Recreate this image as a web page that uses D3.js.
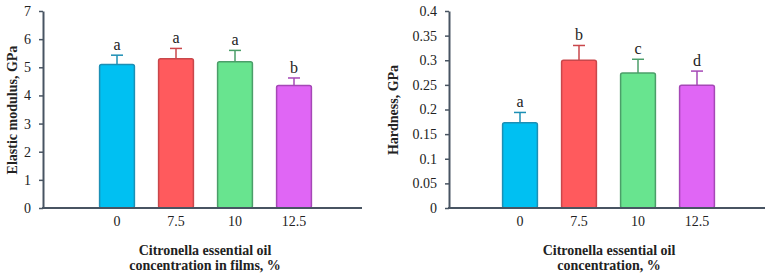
<!DOCTYPE html>
<html>
<head>
<meta charset="utf-8">
<script src="https://cdn.jsdelivr.net/npm/d3@7"></script>
<style>
  body { margin: 0; background: #fff; }
  text { font-family: "Liberation Serif", "Times New Roman", serif; fill: #222; }
</style>
</head>
<body>
<svg id="chart" width="770" height="279"></svg>
<script>
// data
const categories = ["0", "7.5", "10", "12.5"];
const modulusMean = [5.1, 5.3, 5.2, 4.35];
const modulusSd = [0.33, 0.37, 0.4, 0.27];
const modulusLetters = ["a", "a", "a", "b"];
const modulusTicks = [0, 1, 2, 3, 4, 5, 6, 7];

const hardnessMean = [0.173, 0.30, 0.274, 0.249];
const hardnessSd = [0.021, 0.03, 0.028, 0.029];
const hardnessLetters = ["a", "b", "c", "d"];
const hardnessTicks = [0, 0.05, 0.1, 0.15, 0.2, 0.25, 0.3, 0.35, 0.4];

const fills = ["#00c0f2", "#ff5a5d", "#68e48f", "#e066f5"];
const strokes = ["#1c8fb5", "#c9474b", "#4b9e69", "#a548b6"];
const axisColor = "#485462";

const svg = d3.select("svg#chart");

const drawPanel = (opt) => {
    const g = svg.append("g");

    const y = d3.scaleLinear()
        .domain([0, opt.max])
        .range([208, 11]);

    const x = d3.scaleBand()
        .domain(categories)
        .range([opt.bandStart, opt.bandStart + 59 * categories.length])
        .paddingInner(0.41)
        .paddingOuter(0.205);

    // y axis
    const yAxis = g.append("g")
        .attr("transform", `translate(${opt.axisX},0)`)
        .call(d3.axisLeft(y).tickValues(opt.ticks).tickSize(4).tickSizeOuter(0)
            .tickFormat(d => String(+d.toFixed(2))));
    yAxis.select(".domain").attr("stroke", axisColor).attr("stroke-width", 2);
    yAxis.selectAll(".tick line").attr("stroke", axisColor).attr("stroke-width", 1.5);
    yAxis.selectAll(".tick text")
        .attr("x", -12)
        .style("font-family", "Liberation Serif")
        .style("font-size", "14px")
        .attr("fill", "#333");

    const data = categories.map((c, i) => ({c, m: opt.mean[i], sd: opt.sd[i], l: opt.letters[i], i}));

    // error bars
    g.selectAll("line.err")
        .data(data)
        .enter().append("line")
        .attr("x1", d => x(d.c) + x.bandwidth() / 2)
        .attr("x2", d => x(d.c) + x.bandwidth() / 2)
        .attr("y1", d => y(d.m))
        .attr("y2", d => y(d.m + d.sd))
        .attr("stroke", d => strokes[d.i])
        .attr("stroke-width", 1.5);
    g.selectAll("line.cap")
        .data(data)
        .enter().append("line")
        .attr("x1", d => x(d.c) + x.bandwidth() / 2 - 6)
        .attr("x2", d => x(d.c) + x.bandwidth() / 2 + 6)
        .attr("y1", d => y(d.m + d.sd))
        .attr("y2", d => y(d.m + d.sd))
        .attr("stroke", d => strokes[d.i])
        .attr("stroke-width", 1.5);

    // bars
    g.selectAll("rect.bar")
        .data(data)
        .enter().append("rect")
        .attr("x", d => x(d.c))
        .attr("y", d => y(d.m))
        .attr("width", x.bandwidth())
        .attr("height", d => y(0) - y(d.m))
        .attr("rx", 2)
        .attr("fill", d => fills[d.i])
        .attr("stroke", d => strokes[d.i])
        .attr("stroke-width", 1.5);

    // significance letters
    g.selectAll("text.letter")
        .data(data)
        .enter().append("text")
        .attr("x", d => x(d.c) + x.bandwidth() / 2)
        .attr("y", d => y(d.m + d.sd) - 5)
        .attr("text-anchor", "middle")
        .style("font-size", "16px")
        .text(d => d.l);

    // x axis line
    g.append("line")
        .attr("x1", opt.axisX - 1)
        .attr("x2", opt.axisEnd)
        .attr("y1", y(0))
        .attr("y2", y(0))
        .attr("stroke", axisColor)
        .attr("stroke-width", 2);

    // x tick labels
    g.selectAll("text.xt")
        .data(categories)
        .enter().append("text")
        .attr("x", d => x(d) + x.bandwidth() / 2)
        .attr("y", 226)
        .attr("text-anchor", "middle")
        .style("font-size", "14px")
        .attr("fill", "#333")
        .text(d => d);

    // y title
    g.append("text")
        .attr("transform", `translate(${opt.yTitleX},110) rotate(-90)`)
        .attr("text-anchor", "middle")
        .style("font-size", "14px")
        .style("font-weight", "bold")
        .text(opt.yTitle);

    // x title
    const xt = g.append("text")
        .attr("text-anchor", "middle")
        .style("font-size", "14px")
        .style("font-weight", "bold");
    opt.xTitle.forEach((line, i) => {
        xt.append("tspan")
            .attr("x", opt.xTitleX)
            .attr("y", 255 + i * 15)
            .text(line);
    });
};

drawPanel({
    max: 7, ticks: modulusTicks, mean: modulusMean, sd: modulusSd, letters: modulusLetters,
    axisX: 43, axisEnd: 362, bandStart: 87.5,
    yTitle: "Elastic modulus, GPa", yTitleX: 17,
    xTitle: ["Citronella essential oil", "concentration in films, %"], xTitleX: 205
});

drawPanel({
    max: 0.4, ticks: hardnessTicks, mean: hardnessMean, sd: hardnessSd, letters: hardnessLetters,
    axisX: 449, axisEnd: 765, bandStart: 490.5,
    yTitle: "Hardness, GPa", yTitleX: 398,
    xTitle: ["Citronella essential oil", "concentration, %"], xTitleX: 609
});
</script>
</body>
</html>
